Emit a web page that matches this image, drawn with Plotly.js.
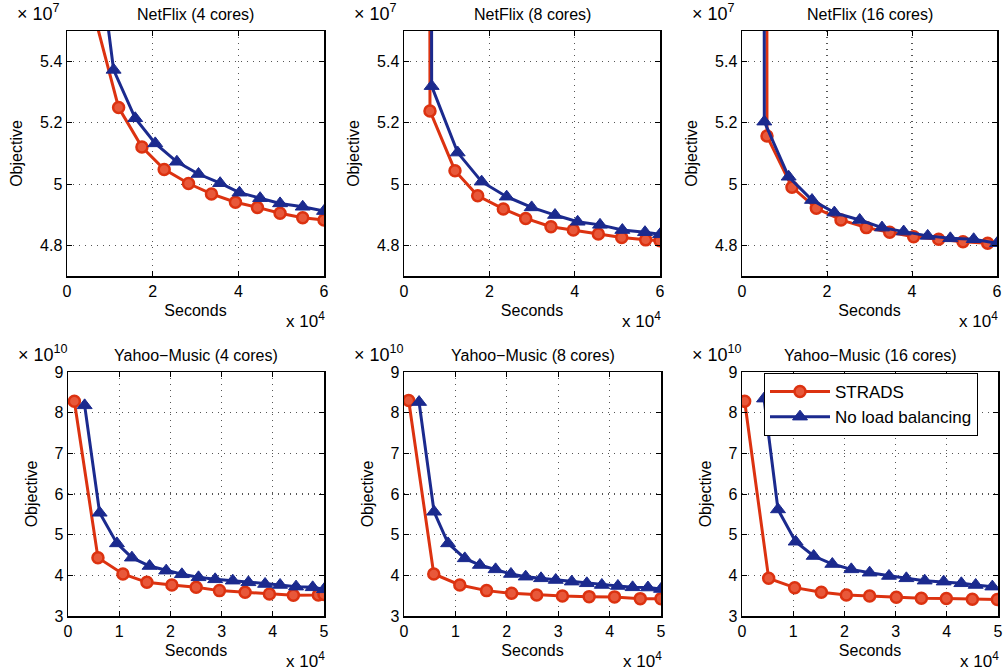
<!DOCTYPE html>
<html>
<head>
<meta charset="utf-8">
<script src="https://cdn.plot.ly/plotly-3.0.1.min.js"></script>
<style>html,body{margin:0;padding:0;background:#fff;}#chart{width:1005px;height:672px;}</style>
</head>
<body>
<div id="chart"></div>
<script>
// Seconds in units of 1e4, objective in units of 1e7 (NetFlix) and 1e10 (Yahoo-Music)
const seriesNames = ["STRADS", "No load balancing"];
const panelTitles = ["NetFlix (4 cores)", "NetFlix (8 cores)", "NetFlix (16 cores)",
                     "Yahoo\u2212Music (4 cores)", "Yahoo\u2212Music (8 cores)", "Yahoo\u2212Music (16 cores)"];

// NetFlix 4 cores
const nf4StradsX = [0.10, 0.66, 1.205, 1.749, 2.269, 2.837, 3.373, 3.933, 4.446, 4.974, 5.503, 6.0];
const nf4StradsY = [8.0, 5.54, 5.250, 5.121, 5.048, 5.002, 4.968, 4.941, 4.924, 4.905, 4.890, 4.883];
const nf4NoLbX = [0.10, 0.58, 1.088, 1.593, 2.060, 2.565, 3.070, 3.575, 4.026, 4.508, 4.974, 5.503, 6.0];
const nf4NoLbY = [8.0, 5.93, 5.373, 5.215, 5.133, 5.073, 5.033, 5.003, 4.972, 4.954, 4.937, 4.926, 4.912];
// NetFlix 8 cores
const nf8StradsX = [0.58, 0.609, 1.195, 1.727, 2.328, 2.852, 3.445, 3.969, 4.555, 5.102, 5.664, 6.0];
const nf8StradsY = [8.0, 5.239, 5.044, 4.962, 4.919, 4.888, 4.861, 4.850, 4.837, 4.826, 4.818, 4.815];
const nf8NoLbX = [0.63, 0.648, 1.258, 1.820, 2.406, 2.992, 3.539, 4.070, 4.594, 5.117, 5.648, 6.0];
const nf8NoLbY = [8.0, 5.320, 5.103, 5.008, 4.959, 4.924, 4.899, 4.877, 4.867, 4.850, 4.843, 4.836];
// NetFlix 16 cores
const nf16StradsX = [0.57, 0.588, 1.176, 1.749, 2.329, 2.925, 3.475, 4.039, 4.627, 5.200, 5.780];
const nf16StradsY = [8.0, 5.157, 4.990, 4.921, 4.883, 4.858, 4.843, 4.828, 4.820, 4.812, 4.807];
const nf16NoLbX = [0.51, 0.525, 1.098, 1.647, 2.173, 2.769, 3.294, 3.804, 4.369, 4.902, 5.451, 6.0];
const nf16NoLbY = [8.0, 5.204, 5.024, 4.948, 4.907, 4.883, 4.858, 4.845, 4.831, 4.823, 4.820, 4.807];
// Yahoo-Music 4 cores
const ym4StradsX = [0.124, 0.585, 1.073, 1.541, 2.029, 2.503, 2.958, 3.459, 3.934, 4.402, 4.889, 5.0];
const ym4StradsY = [8.28, 4.434, 4.033, 3.828, 3.763, 3.705, 3.624, 3.583, 3.542, 3.510, 3.515, 3.53];
const ym4NoLbX = [0.325, 0.618, 0.956, 1.248, 1.593, 1.918, 2.224, 2.549, 2.874, 3.218, 3.524, 3.849, 4.142, 4.454, 4.779, 5.0];
const ym4NoLbY = [8.18, 5.538, 4.785, 4.434, 4.229, 4.115, 4.025, 3.951, 3.902, 3.869, 3.828, 3.787, 3.763, 3.722, 3.705, 3.656];
// Yahoo-Music 8 cores
const ym8StradsX = [0.091, 0.579, 1.086, 1.606, 2.094, 2.581, 3.082, 3.602, 4.096, 4.597, 5.0];
const ym8StradsY = [8.30, 4.033, 3.763, 3.624, 3.558, 3.517, 3.493, 3.476, 3.470, 3.427, 3.427];
const ym8NoLbX = [0.293, 0.585, 0.858, 1.183, 1.476, 1.782, 2.081, 2.367, 2.666, 2.952, 3.264, 3.557, 3.849, 4.161, 4.447, 4.746, 5.0];
const ym8NoLbY = [8.26, 5.563, 4.785, 4.417, 4.254, 4.147, 4.033, 3.967, 3.926, 3.885, 3.845, 3.804, 3.763, 3.738, 3.705, 3.700, 3.664];
// Yahoo-Music 16 cores
const ym16StradsX = [0.052, 0.521, 1.029, 1.549, 2.038, 2.493, 3.014, 3.503, 3.991, 4.499, 4.987];
const ym16StradsY = [8.28, 3.926, 3.697, 3.583, 3.517, 3.493, 3.460, 3.435, 3.430, 3.411, 3.405];
const ym16NoLbX = [0.430, 0.703, 1.048, 1.400, 1.764, 2.135, 2.493, 2.871, 3.210, 3.568, 3.939, 4.284, 4.564, 4.889];
const ym16NoLbY = [8.345, 5.620, 4.826, 4.475, 4.278, 4.147, 4.065, 3.984, 3.926, 3.869, 3.845, 3.804, 3.763, 3.722];

// tick labels
const nfYTicks = [4.8, 5.0, 5.2, 5.4];
const nfYText = ["4.8", "5", "5.2", "5.4"];
const nfXTicks = [0, 2, 4, 6];
const nfXText = ["0", "2", "4", "6"];
const ymYTicks = [3, 4, 5, 6, 7, 8, 9];
const ymYText = ["3", "4", "5", "6", "7", "8", "9"];
const ymXTicks = [0, 1, 2, 3, 4, 5];
const ymXText = ["0", "1", "2", "3", "4", "5"];

const X_SCALE = 1e4, NF_SCALE = 1e7, YM_SCALE = 1e10;

const RED = "#dc3210", BLUE = "#1b2a8e";
const FONT = "Liberation Sans, Arial, Helvetica, sans-serif";

const panels = [
  {sx: nf4StradsX, sy: nf4StradsY, bx: nf4NoLbX, by: nf4NoLbY, ys: NF_SCALE, yt: nfYTicks, ytt: nfYText, xt: nfXTicks, xtt: nfXText, xr: [0, 6], yr: [4.7, 5.5]},
  {sx: nf8StradsX, sy: nf8StradsY, bx: nf8NoLbX, by: nf8NoLbY, ys: NF_SCALE, yt: nfYTicks, ytt: nfYText, xt: nfXTicks, xtt: nfXText, xr: [0, 6], yr: [4.7, 5.5]},
  {sx: nf16StradsX, sy: nf16StradsY, bx: nf16NoLbX, by: nf16NoLbY, ys: NF_SCALE, yt: nfYTicks, ytt: nfYText, xt: nfXTicks, xtt: nfXText, xr: [0, 6], yr: [4.7, 5.5]},
  {sx: ym4StradsX, sy: ym4StradsY, bx: ym4NoLbX, by: ym4NoLbY, ys: YM_SCALE, yt: ymYTicks, ytt: ymYText, xt: ymXTicks, xtt: ymXText, xr: [0, 5], yr: [3, 9]},
  {sx: ym8StradsX, sy: ym8StradsY, bx: ym8NoLbX, by: ym8NoLbY, ys: YM_SCALE, yt: ymYTicks, ytt: ymYText, xt: ymXTicks, xtt: ymXText, xr: [0, 5], yr: [3, 9]},
  {sx: ym16StradsX, sy: ym16StradsY, bx: ym16NoLbX, by: ym16NoLbY, ys: YM_SCALE, yt: ymYTicks, ytt: ymYText, xt: ymXTicks, xtt: ymXText, xr: [0, 5], yr: [3, 9]}
];

// pixel boxes [x0,x1,y0(top),y1(bottom)]
const W = 1005, H = 672;
const boxes = [
  [67, 324, 31, 276], [404, 660, 31, 276], [742, 997, 31, 276],
  [68, 324, 372, 616], [404, 661, 372, 616], [742, 998, 372, 616]
];

const scale = (arr, s) => arr.map(v => v * s);
const traces = [];
const layout = {
  width: W, height: H,
  margin: {l: 0, r: 0, t: 0, b: 0},
  paper_bgcolor: "#fff", plot_bgcolor: "#fff",
  font: {family: FONT, size: 14, color: "#000"},
  showlegend: true,
  legend: {
    x: 764 / W, y: 1 - 373 / H, xanchor: "left", yanchor: "top",
    bgcolor: "#fff", bordercolor: "#000", borderwidth: 1,
    font: {family: FONT, size: 17, color: "#000"},
    itemwidth: 60, tracegroupgap: 0
  },
  annotations: []
};

panels.forEach((p, i) => {
  const n = i + 1;
  const xa = "x" + (n === 1 ? "" : n), ya = "y" + (n === 1 ? "" : n);
  traces.push({
    x: scale(p.sx, X_SCALE), y: scale(p.sy, p.ys), xaxis: xa, yaxis: ya,
    type: "scatter", mode: "lines+markers", name: seriesNames[0],
    line: {color: RED, width: 3},
    marker: {symbol: "circle", size: 11, color: "#e8583a", line: {color: RED, width: 2.5}},
    showlegend: i === 5, legendrank: 1
  });
  traces.push({
    x: scale(p.bx, X_SCALE), y: scale(p.by, p.ys), xaxis: xa, yaxis: ya,
    type: "scatter", mode: "lines+markers", name: seriesNames[1],
    line: {color: BLUE, width: 3},
    marker: {symbol: "triangle-up", size: 13, color: BLUE, line: {color: BLUE, width: 1}},
    showlegend: i === 5, legendrank: 2
  });
  const b = boxes[i];
  const axCommon = {
    showline: true, mirror: "ticks", linecolor: "#000", linewidth: 1.5,
    ticks: "inside", ticklen: 5, tickcolor: "#000", tickwidth: 1,
    showgrid: true, gridcolor: "#555", griddash: "1px,5px", gridwidth: 1.2,
    zeroline: false, tickfont: {family: FONT, size: 16, color: "#000"},
    fixedrange: true
  };
  layout["xaxis" + (n === 1 ? "" : n)] = Object.assign({}, axCommon, {
    domain: [b[0] / W, b[1] / W], anchor: ya,
    range: p.xr.map(v => v * X_SCALE),
    tickvals: scale(p.xt, X_SCALE), ticktext: p.xtt,
    title: {text: "Seconds", font: {family: FONT, size: 16, color: "#000"}, standoff: 6}
  });
  layout["yaxis" + (n === 1 ? "" : n)] = Object.assign({}, axCommon, {
    domain: [1 - b[3] / H, 1 - b[2] / H], anchor: xa,
    range: p.yr.map(v => v * p.ys),
    tickvals: scale(p.yt, p.ys), ticktext: p.ytt,
    title: {text: "Objective", font: {family: FONT, size: 16, color: "#000"}, standoff: 13}
  });
  // panel title
  layout.annotations.push({
    text: panelTitles[i], xref: "paper", yref: "paper",
    x: (b[0] + b[1]) / 2 / W, y: 1 - (b[2] - 6) / H, xanchor: "center", yanchor: "bottom",
    showarrow: false, font: {family: FONT, size: 16, color: "#000"}
  });
  // exponent multipliers
  const expY = p.ys === NF_SCALE ? "7" : "10";
  layout.annotations.push({
    text: "\u00d7 10<sup>" + expY + "</sup>", xref: "paper", yref: "paper",
    x: (b[0] - 52) / W, y: 1 - (b[2] - 32) / H, xanchor: "left", yanchor: "top",
    showarrow: false, font: {family: FONT, size: 18, color: "#000"}
  });
  layout.annotations.push({
    text: "x 10<sup>4</sup>", xref: "paper", yref: "paper",
    x: (b[1] + 3) / W, y: 1 - (b[3] + 31) / H, xanchor: "right", yanchor: "top",
    showarrow: false, font: {family: FONT, size: 17, color: "#000"}
  });
});

Plotly.newPlot("chart", traces, layout, {staticPlot: true, displayModeBar: false});
</script>
</body>
</html>
